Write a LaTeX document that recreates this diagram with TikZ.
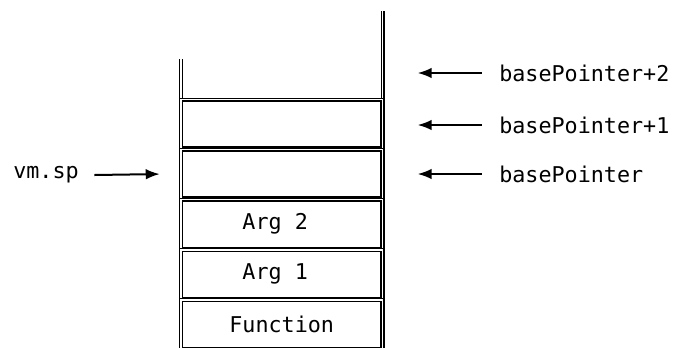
\documentclass[tikz,border=0pt]{standalone}
\usepackage{fontspec}
\setmonofont{DejaVu Sans Mono}
\usetikzlibrary{arrows.meta,positioning}
\begin{document}
\begin{tikzpicture}[x=0.75pt,y=-0.75pt,font=\ttfamily\fontsize{16.3}{19}\selectfont,
  cell/.style={draw=black,double=white,double distance=1.1pt,line width=0.95pt,minimum width=151pt,minimum height=36.6pt,inner sep=0pt},
  wall/.style={draw=black,double=white,double distance=1.1pt,line width=0.95pt},
  ptr/.style={-{Latex[length=10.5pt,width=8pt]},line width=1.5pt},
  lbl/.style={anchor=west,inner sep=0pt}]
\useasboundingbox (0,0) rectangle (673,347);

% stack walls
\coordinate (ltop) at (181,59);
\coordinate (rtop) at (382.5,11);
\coordinate (lbot) at (181,350);
\coordinate (rbot) at (382.5,350);
\draw[wall] (ltop) -- (lbot);
\draw[wall] (rtop) -- (rbot);

% cells
\node[cell] (bp1) at (281.7,124) {};
\node[cell,below=0pt of bp1] (bp) {};
\node[cell,below=0pt of bp] (arg2) {Arg 2\hphantom{0}};
\node[cell,below=0pt of arg2] (arg1) {Arg 1\hphantom{0}};
\node[cell,below=0pt of arg1] (fn) {Function};

% pointers
\node[lbl] (sp) at (13,175) {vm.sp};
\draw[ptr] ([xshift=11.5pt]sp.east) -- ([xshift=-15.5pt]bp.west);

\node[lbl] (lbp2) at (499,73) {basePointer+2};
\node[lbl] (lbp1) at (499,125) {basePointer+1};
\node[lbl] (lbp) at (499,174) {basePointer};
\coordinate (top2) at (bp1.east |- lbp2.west);
\draw[ptr] ([xshift=-13pt]lbp2.west) -- ([xshift=26pt]top2);
\draw[ptr] ([xshift=-13pt]lbp1.west) -- ([xshift=26pt]lbp1.west -| bp1.east);
\draw[ptr] ([xshift=-13pt]lbp.west) -- ([xshift=26pt]lbp.west -| bp.east);
\end{tikzpicture}
\end{document}
